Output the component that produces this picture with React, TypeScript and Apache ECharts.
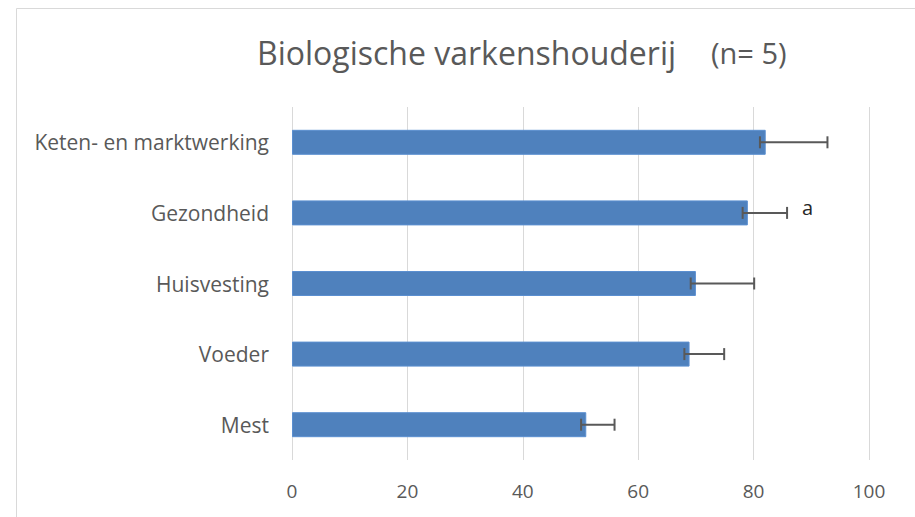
import React, { useEffect, useRef } from "react";
import * as echarts from "echarts";

const categories = ["Keten- en marktwerking", "Gezondheid", "Huisvesting", "Voeder", "Mest"];
const values = [82.1, 79.0, 70.0, 68.9, 51.0];
const errLow = [81.1, 78.1, 69.1, 68.0, 50.1];
const errHigh = [92.8, 85.8, 80.1, 74.9, 55.9];
const annotations = ["", "a", "", "", ""];
const xTicks = [0, 20, 40, 60, 80, 100];

const FONT = "'Open Sans', 'Noto Sans', sans-serif";

export default function App() {
  const ref = useRef<HTMLDivElement>(null);
  useEffect(() => {
    if (!ref.current) return;
    const chart = echarts.init(ref.current, undefined, { renderer: "svg" });
    const errData = categories.map((c, i) => [i, errLow[i], errHigh[i], annotations[i]]);
    chart.setOption({
      animation: false,
      backgroundColor: "#ffffff",
      title: [
        {
          text: "Biologische varkenshouderij",
          left: 252,
          top: 31,
          textStyle: { fontFamily: FONT, fontSize: 32, fontWeight: "normal", color: "#595959" },
        },
        {
          text: "(n= 5)",
          left: 706,
          top: 33,
          textStyle: { fontFamily: FONT, fontSize: 29, fontWeight: "normal", color: "#595959" },
        },
      ],
      graphic: [
        {
          type: "rect",
          shape: { x: 16.5, y: 8.5, width: 1000, height: 1000 },
          style: { fill: "none", stroke: "#d9d9d9", lineWidth: 1 },
          silent: true,
        },
      ],
      grid: { left: 292, right: 46, top: 107, bottom: 57, containLabel: false },
      xAxis: {
        type: "value",
        min: xTicks[0],
        max: xTicks[xTicks.length - 1],
        interval: 20,
        axisLine: { show: false },
        axisTick: { show: false },
        axisLabel: { fontFamily: FONT, fontSize: 19, color: "#595959", margin: 21 },
        splitLine: { show: true, lineStyle: { color: "#d9d9d9", width: 1 } },
      },
      yAxis: {
        type: "category",
        data: categories,
        inverse: true,
        axisLine: { show: false },
        axisTick: { show: false },
        axisLabel: { fontFamily: FONT, fontSize: 21, color: "#595959", margin: 23 },
        splitLine: { show: false },
      },
      series: [
        {
          type: "bar",
          data: values,
          barWidth: 25,
          itemStyle: { color: "#4f81bd", borderColor: "#5b8fd0", borderWidth: 1 },
          z: 2,
        },
        {
          type: "custom",
          data: errData,
          z: 3,
          encode: { x: [1, 2], y: 0 },
          renderItem: (params: any, api: any) => {
            const idx = api.value(0);
            const lo = api.coord([api.value(1), idx]);
            const hi = api.coord([api.value(2), idx]);
            const y = lo[1];
            const h = 6;
            const style = { stroke: "#595959", lineWidth: 2 };
            const children: any[] = [
              { type: "line", shape: { x1: lo[0], y1: y, x2: hi[0], y2: y }, style },
              { type: "line", shape: { x1: lo[0], y1: y - h, x2: lo[0], y2: y + h }, style },
              { type: "line", shape: { x1: hi[0], y1: y - h, x2: hi[0], y2: y + h }, style },
            ];
            const ann = errData[params.dataIndex][3] as string;
            if (ann) {
              children.push({
                type: "text",
                style: {
                  text: ann,
                  x: hi[0] + 15,
                  y: y - 5,
                  fill: "#262626",
                  font: `20px ${FONT}`,
                  textVerticalAlign: "middle",
                  textAlign: "left",
                },
              });
            }
            return { type: "group", children };
          },
        },
      ],
    });
    return () => chart.dispose();
  }, []);
  return <div ref={ref} style={{ position: "fixed", left: 0, top: 0, width: 915, height: 517 }} />;
}
